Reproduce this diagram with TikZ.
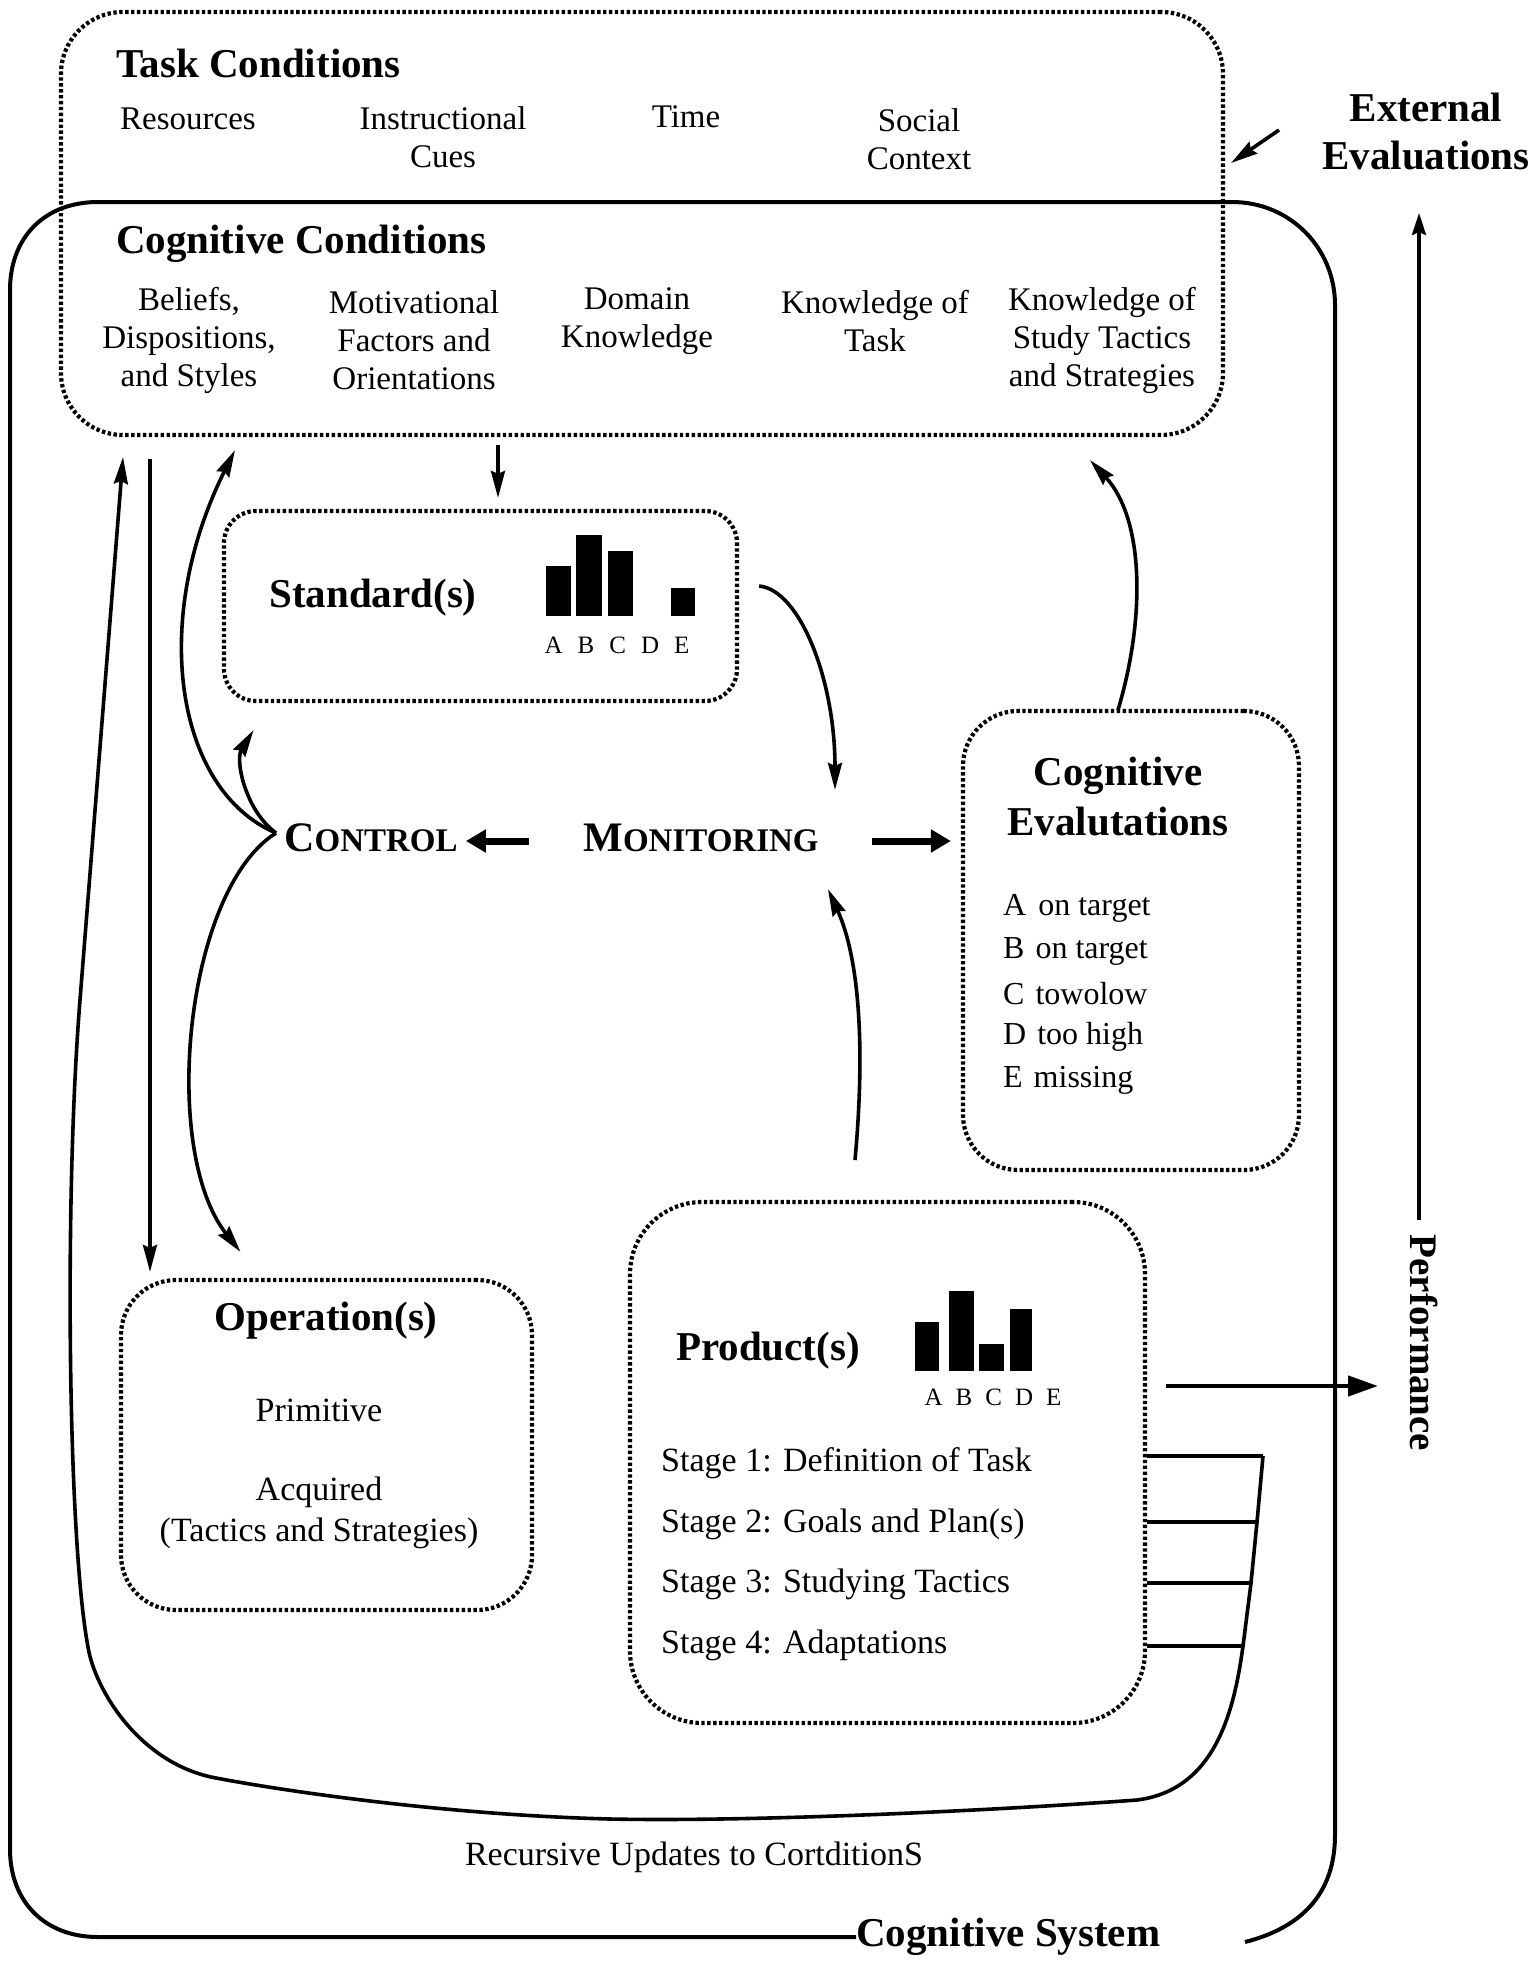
\documentclass[tikz,border=0pt]{standalone}
\usepackage{fontspec}
\setmainfont{Liberation Serif}
\usetikzlibrary{arrows.meta,calc}
\begin{document}
\begin{tikzpicture}[x=1pt,y=-1pt,
  dotbox/.style={draw, line width=4.2pt, dash pattern=on 3.4pt off 2.5pt, rounded corners=#1, inner sep=0pt},
  hd/.style={font=\fontsize{41}{48}\selectfont\bfseries, inner sep=0pt, align=center, yshift=-4pt},
  tx/.style={font=\fontsize{33}{38}\selectfont, inner sep=0pt, align=center, yshift=-4pt},
  stx/.style={font=\fontsize{34}{40}\selectfont, inner sep=0pt, anchor=west, yshift=-4pt},
  lbl/.style={font=\fontsize{25}{28}\selectfont, inner sep=0pt},
  arr/.style={line width=3.6pt, -{Stealth[length=27pt,width=14pt,inset=3pt]}},
  fatarr/.style={line width=7pt, -{Triangle[length=20pt,width=22pt]}},
  perfarr/.style={line width=4.5pt, -{Triangle[length=30pt,width=20pt]}},
  solid line/.style={line width=4pt},
  bar/.style={fill=black}
]
\useasboundingbox (0,0) rectangle (1532,1973);

% ---------- boxes ----------
\node[dotbox=62, minimum width=1162pt, minimum height=423pt] (condbox) at (642,223.5) {};
\node[dotbox=32, minimum width=513pt, minimum height=190pt] (stdbox) at (480.5,606) {};
\node[dotbox=55, minimum width=336pt, minimum height=459pt] (cevbox) at (1131,940.5) {};
\node[dotbox=55, minimum width=411pt, minimum height=330pt] (opbox) at (326.5,1445) {};
\node[dotbox=72, minimum width=515pt, minimum height=521pt] (prodbox) at (887.5,1462.5) {};

% ---------- Cognitive System outline ----------
\node[hd, anchor=west] (cogsys) at (856,1933) {Cognitive System};
\draw[solid line] (cogsys.west) -- (98,1937) .. controls (45,1937) and (10,1902) .. (10,1849)
  -- (10,290) .. controls (10,237) and (45,202) .. (98,202)
  -- (1232,202) .. controls (1290,202) and (1335,248) .. (1335,305)
  -- (1335,1835) .. controls (1335,1895) and (1300,1928) .. (1245,1942);

% ---------- Task conditions ----------
\node[hd, anchor=west] (taskc) at (116,59) {Task Conditions};
\node[tx] (res) at (188,115) {Resources};
\node[tx] (instr) at (443,133) {Instructional\\Cues};
\node[tx] (time) at (686,113) {Time};
\node[tx] (soc) at (919,135) {Social\\Context};

\node[hd] (ext) at (1426,128) {External\\Evaluations};
\coordinate (e1) at (1279,130);
\coordinate (e2) at (1231,163);
\draw[arr] (e1) -- (e2);

% ---------- Cognitive conditions ----------
\node[hd, anchor=west] (cogc) at (116,240) {Cognitive Conditions};
\node[tx] (bel) at (189,336) {Beliefs,\\Dispositions,\\and Styles};
\node[tx] (mot) at (414,336) {Motivational\\Factors and\\Orientations};
\node[tx] (dom) at (637,317) {Domain\\Knowledge};
\node[tx] (kot) at (875,317) {Knowledge of\\Task};
\node[tx] (kst) at (1102,336) {Knowledge of\\Study Tactics\\and Strategies};

% ---------- Standard(s) ----------
\node[hd] (std) at (373,594) {Standard(s)};
\fill[bar] (546,616) rectangle (571,566);
\fill[bar] (576,616) rectangle (602,535);
\fill[bar] (608,616) rectangle (633,551);
\fill[bar] (671,616) rectangle (695,588);
\node[lbl] (stdlbl) at (617,645) {A\hspace{15pt}B\hspace{15pt}C\hspace{15pt}D\hspace{15pt}E};

% ---------- Control / Monitoring ----------
\node[inner sep=0pt, font=\bfseries] (ctrl) at (371,838) {{\fontsize{42}{42}\selectfont C}{\fontsize{33}{33}\selectfont ONTROL}};
\node[inner sep=0pt, font=\bfseries] (mon) at (701,838) {{\fontsize{42}{42}\selectfont M}{\fontsize{33}{33}\selectfont ONITORING}};
\coordinate (cw) at (276,833);

% ---------- Cognitive Evaluations ----------
\node[hd, font=\fontsize{41}{50}\selectfont\bfseries] (cev) at (1118,793) {Cognitive\\Evalutations};
\node[stx, font=\fontsize{32}{38}\selectfont] (ea) at (1003,904) {A\hspace{12pt}on target};
\node[stx, font=\fontsize{32}{38}\selectfont] (eb) at (1003,947) {B\hspace{11pt}on target};
\node[stx, font=\fontsize{32}{38}\selectfont] (ec) at (1003,990) {C\hspace{11pt}towolow};
\node[stx, font=\fontsize{32}{38}\selectfont] (ed) at (1003,1033) {D\hspace{11pt}too high};
\node[stx, font=\fontsize{32}{38}\selectfont] (ee) at (1003,1076) {E\hspace{11pt}missing};

% ---------- Operation(s) ----------
\node[hd] (op) at (326,1317) {Operation(s)};
\node[tx, font=\fontsize{34}{40}\selectfont] (prim) at (319,1406) {Primitive};
\node[tx, font=\fontsize{34}{41}\selectfont] (acq) at (319,1509) {Acquired\\(Tactics and Strategies)};

% ---------- Product(s) ----------
\node[hd] (prod) at (768,1347) {Product(s)};
\fill[bar] (915,1371) rectangle (939,1322);
\fill[bar] (949,1371) rectangle (974,1291);
\fill[bar] (979,1371) rectangle (1004,1344);
\fill[bar] (1010,1371) rectangle (1032,1309);
\node[lbl] (prodlbl) at (993,1397) {A\hspace{13pt}B\hspace{13pt}C\hspace{13pt}D\hspace{13pt}E};
\node[stx] (s1) at (661,1459) {Stage 1: Definition of Task};
\node[stx] (s2) at (661,1520) {Stage 2: Goals and Plan(s)};
\node[stx] (s3) at (661,1580) {Stage 3: Studying Tactics};
\node[stx] (s4) at (661,1641) {Stage 4: Adaptations};

% ---------- Performance ----------
\node[font=\fontsize{39}{44}\selectfont\bfseries, inner sep=0pt, rotate=-90] (perf) at (1424,1343) {Performance};
\coordinate (ptop) at (1419,213);
\coordinate (ptip) at (1378,1386);
\draw[line width=3.6pt, -{Stealth[length=22pt,width=14pt,inset=3pt]}] ($(perf.west)+(-5,-15)$) -- (ptop);
\draw[perfarr] ($(prodbox.east)+(19,-76.5)$) -- (ptip);

% ---------- Recursive updates ----------
\node[tx, font=\fontsize{34}{40}\selectfont] (rec) at (694,1853) {Recursive Updates to CortditionS};
\coordinate (r1) at (1263,1456);
\coordinate (r2) at (1257,1522);
\coordinate (r3) at (1251,1583);
\coordinate (r4) at (1243,1646);
\coordinate (rtip) at (123,457);
\draw[solid line] (prodbox.east |- r1) -- (r1);
\draw[solid line] (prodbox.east |- r2) -- (r2);
\draw[solid line] (prodbox.east |- r3) -- (r3);
\draw[solid line] (prodbox.east |- r4) -- (r4);
\draw[arr, line width=3.6pt] (r1) -- (r2) -- (r3) -- (r4)
  .. controls (1234,1712) and (1215,1790) .. (1137,1800)
  .. controls (1000,1810) and (760,1822) .. (610,1819)
  .. controls (450,1815) and (290,1792) .. (216,1778)
  .. controls (140,1764) and (95,1690) .. (88,1647)
  .. controls (68,1540) and (64,1200) .. (80,1000)
  -- (rtip);

% ---------- arrows ----------
\draw[arr] ($(condbox.south)+(-144,8)$) -- ($(stdbox.north)+(17.5,-11)$);
\draw[arr] ($(condbox.south)+(-492,22)$) -- ($(opbox.north)+(-176.5,-6)$);
\draw[arr] (cw) .. controls (175,790) and (150,620) .. ($(condbox.south)+(-407,13)$);
\draw[arr] (cw) .. controls (245,810) and (235,760) .. ($(stdbox.south)+(-227,27)$);
\draw[arr] (cw) .. controls (185,890) and (160,1150) .. ($(opbox.north)+(-86,-26)$);
\draw[fatarr] ($(mon.west)+(-54,3)$) -- ($(ctrl.east)+(8,3)$);
\draw[fatarr] ($(mon.east)+(53,3)$) -- ($(cevbox.west)+(-10,-99.5)$);
\draw[arr] ($(stdbox.east)+(20,-20)$) .. controls (800,590) and (835,680) .. ($(mon.north)+(134,-34)$);
\draw[arr] ($(cevbox.south)+(-276,-12)$) .. controls (865,1050) and (860,960) .. ($(mon.south)+(127,37)$);
\draw[arr] ($(cevbox.north)+(-13,1)$) .. controls (1145,620) and (1145,520) .. ($(condbox.south)+(448,23)$);
\end{tikzpicture}
\end{document}
